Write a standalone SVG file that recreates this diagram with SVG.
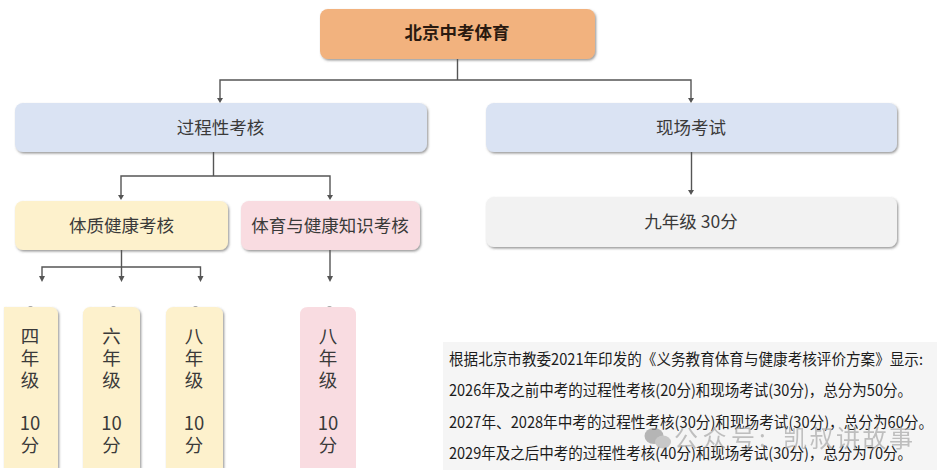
<svg xmlns="http://www.w3.org/2000/svg" width="944" height="476" viewBox="0 0 944 476">
<style>
text{font-family:"Noto Sans CJK SC","Liberation Sans",sans-serif;fill:#3a3a3a}
.t{font-size:17.500px;text-anchor:middle}
.s{font-size:18.500px;text-anchor:middle}
.p{font-size:15.400px;fill:#1c1c1c}
.b{filter:url(#sh)}
.c{fill:none;stroke:#555;stroke-width:1.400}
.w{font-size:24px;fill:#a8a8a8}
</style>
<defs>
<filter id="sh" x="-10%" y="-10%" width="120%" height="125%"><feDropShadow dx="1.200" dy="1.500" stdDeviation="1" flood-color="#555" flood-opacity=".6"/></filter>
</defs>
<rect width="944" height="476" fill="#fff"/>
<g id="connectors">
<path class="c" d="M457.500 58V80M220 100V80H691V100"/>
<path class="c" d="M213.500 152V176M121 197V176H330V197"/>
<path class="c" d="M691.500 152V192"/>
<path class="c" d="M121.500 250V267M42 278V267H200.500V278M121.500 267V278"/>
<path class="c" d="M330 250V278"/>
<path d="M217 98H223L220 103ZM688 98H694L691 103ZM118 195H124L121 200ZM327 195H333L330 200ZM688 190H694L691 195ZM39 276H45L42 282ZM118.500 276H124.500L121.500 282ZM197.500 276H203.500L200.500 282ZM327 276H333L330 282Z" fill="#555"/>
<path d="M28 306H33L30.500 307.500ZM111 306H116L113.500 307.500ZM193 306H198L195.500 307.500ZM327 306H332L329.500 307.500Z" fill="#aaa"/>
</g>
<g id="root"><rect class="b" x="320" y="9" width="275" height="50" rx="8" fill="#f2b27e"/><text x="457" y="39" class="t" style="font-weight:700;fill:#2a1a10">北京中考体育</text></g>
<g id="process"><rect class="b" x="15" y="103" width="412" height="49" rx="8" fill="#dae3f3"/><text x="220.500" y="133.500" class="t">过程性考核</text></g>
<g id="onsite"><rect class="b" x="486" y="103" width="411" height="49" rx="8" fill="#dae3f3"/><text x="691" y="133.500" class="t">现场考试</text></g>
<g id="fitness"><rect class="b" x="15" y="201" width="213" height="49" rx="8" fill="#fdf1cc"/><text x="121.500" y="231.500" class="t">体质健康考核</text></g>
<g id="knowledge"><rect class="b" x="241" y="201" width="179" height="49" rx="8" fill="#f9dce1"/><text x="330" y="231.500" class="t">体育与健康知识考核</text></g>
<g id="grade9"><rect class="b" x="486" y="197" width="411" height="50" rx="8" fill="#f2f2f2"/><text x="691" y="227.500" class="t">九年级 30分</text></g>
<g id="g4"><path class="b" d="M4 468V307H50Q58 307 58 315V468Z" fill="#fdf1cc"/><text x="30" y="343" class="s">四</text><text x="30" y="365" class="s">年</text><text x="30" y="387" class="s">级</text><text x="30" y="430" class="s">10</text><text x="30" y="452" class="s">分</text></g>
<g id="g6"><path class="b" d="M83 468V315Q83 307 91 307H132Q140 307 140 315V468Z" fill="#fdf1cc"/><text x="111.500" y="343" class="s">六</text><text x="111.500" y="365" class="s">年</text><text x="111.500" y="387" class="s">级</text><text x="111.500" y="430" class="s">10</text><text x="111.500" y="452" class="s">分</text></g>
<g id="g8"><path class="b" d="M166 468V315Q166 307 174 307H215Q223 307 223 315V468Z" fill="#fdf1cc"/><text x="194" y="343" class="s">八</text><text x="194" y="365" class="s">年</text><text x="194" y="387" class="s">级</text><text x="194" y="430" class="s">10</text><text x="194" y="452" class="s">分</text></g>
<g id="g8k"><path d="M300 468V315Q300 307 308 307H348Q356 307 356 315V468Z" fill="#f9dce1"/><text x="328" y="343" class="s">八</text><text x="328" y="365" class="s">年</text><text x="328" y="387" class="s">级</text><text x="328" y="430" class="s">10</text><text x="328" y="452" class="s">分</text></g>
<rect x="0" y="468" width="440" height="8" fill="#fff"/>
<g id="note"><rect x="443" y="342" width="494" height="128" fill="#f5f5f5"/>
<text x="449" y="365" class="p" textLength="474" lengthAdjust="spacingAndGlyphs">根据北京市教委2021年印发的《义务教育体育与健康考核评价方案》显示:</text>
<text x="449" y="396" class="p" textLength="463" lengthAdjust="spacingAndGlyphs">2026年及之前中考的过程性考核(20分)和现场考试(30分)，总分为50分。</text>
<text x="449" y="428" class="p" textLength="484" lengthAdjust="spacingAndGlyphs">2027年、2028年中考的过程性考核(30分)和现场考试(30分)，总分为60分。</text>
<text x="449" y="459" class="p" textLength="463" lengthAdjust="spacingAndGlyphs">2029年及之后中考的过程性考核(40分)和现场考试(30分)，总分为70分。</text></g>
<g id="watermark" opacity=".7"><ellipse cx="654" cy="436" rx="9.500" ry="8" fill="#9a9a9a"/><ellipse cx="663" cy="442" rx="8" ry="6.500" fill="#b5b5b5"/>
<text x="674" y="447" class="w" textLength="81" lengthAdjust="spacing">公众号</text><text x="759" y="447" class="w">:</text><text x="783" y="447" class="w" textLength="130" lengthAdjust="spacing">凯叔讲故事</text></g>
</svg>
